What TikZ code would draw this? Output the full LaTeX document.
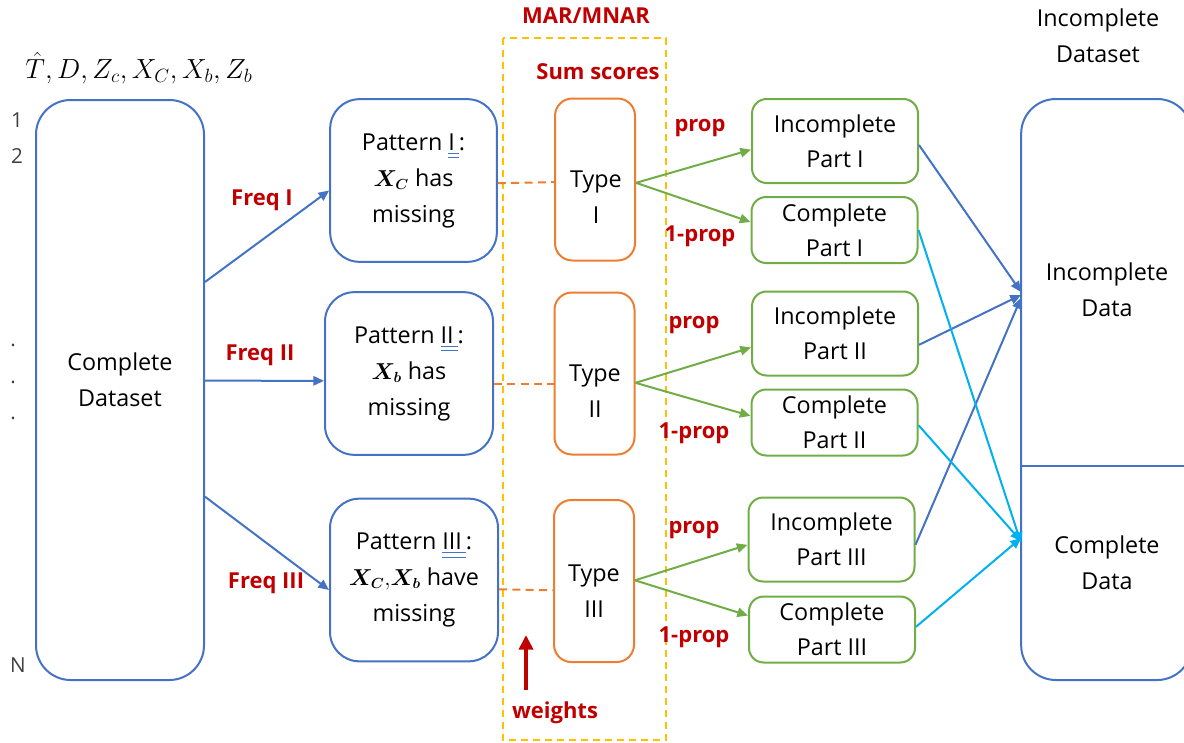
\documentclass[tikz,border=0pt]{standalone}
\usepackage{amsmath,bm}
\usepackage{fontspec}
\setmainfont{Open Sans}
\usetikzlibrary{arrows.meta,calc}
\definecolor{cblue}{HTML}{4472C4}
\definecolor{corange}{HTML}{ED7D31}
\definecolor{cgreen}{HTML}{70AD47}
\definecolor{ccyan}{HTML}{00B0F0}
\definecolor{cred}{HTML}{C00000}
\definecolor{cyellow}{HTML}{FFC000}
\definecolor{cgray}{HTML}{404040}
\newcommand\dul[1]{{\color{cblue}\underline{\underline{\textcolor{black}{#1}}}}}
\newcommand\mth[1]{{\fontsize{16}{27}\selectfont$#1$}}
\tikzset{
  every node/.style={font=\fontsize{17.5}{27}\selectfont, text=black, inner sep=0pt},
  bluebox/.style={draw=cblue, line width=1.5pt, rounded corners=22pt, align=center},
  typebox/.style={draw=corange, line width=1.5pt, rounded corners=13pt,
     minimum width=60pt, minimum height=121.5pt},
  greenbox/.style={draw=cgreen, line width=1.5pt, rounded corners=11pt, align=center,
     minimum width=124.5pt, font=\fontsize{17.5}{26}\selectfont},
  redlab/.style={text=cred, font=\fontsize{16.5}{20}\selectfont\bfseries},
  rowlab/.style={text=cgray, font=\fontsize{15.5}{20}\selectfont},
  tip/.style={-{Triangle[length=8pt,width=7pt]}},
  bluearrow/.style={tip, draw=cblue, line width=1.5pt},
  cyanarrow/.style={tip, draw=ccyan, line width=1.5pt},
  greenarrow/.style={tip, draw=cgreen, line width=1.5pt},
  orangedash/.style={draw=corange, line width=1.5pt, dash pattern=on 6pt off 4pt},
}
\begin{document}
\begin{tikzpicture}[x=0.75pt,y=-0.75pt]
\path[use as bounding box] (0,0) rectangle (1184,742);
\clip (0,0) rectangle (1184,742);

% top-left label and row numbers
\node[font=\fontsize{19.2}{24}\selectfont] (vars) at (139,68) {$\hat{T},D,Z_c,X_C,X_b,Z_b$};
\node[rowlab] (r1) at (17,120) {1};
\node[rowlab] (r2) at (17,156) {2};
\node[rowlab] (d1) at (13,345) {.};
\node[rowlab] (d2) at (13,382) {.};
\node[rowlab] (d3) at (13,418) {.};
\node[rowlab] (rn) at (18,665) {N};

% complete dataset
\node[bluebox, minimum width=126pt, minimum height=435pt, rounded corners=26pt] (cd) at (120,390) {};
\node[align=center] (cdt) at (120,380) {Complete\\Dataset};

% patterns
\node[bluebox, minimum width=125pt, minimum height=122pt] (p1) at (413.5,180.5)
  {Pattern \dul{I\,}:\\\mth{\bm{X_C}} has\\missing};
\node[bluebox, minimum width=126pt, minimum height=122pt] (p2) at (409,373.5)
  {Pattern \dul{II\,}:\\\mth{\bm{X_b}} has\\missing};
\node[bluebox, minimum width=126pt, minimum height=122pt] (p3) at (414,580)
  {Pattern \dul{III\,}:\\\mth{\bm{X_C},\!\bm{X_b}} have\\missing};

% yellow dashed region
\draw[cyellow, line width=1.5pt, dash pattern=on 5.5pt off 3.5pt] (503,38) rectangle (666,740);
\node[redlab] (mar) at (586,16) {MAR/MNAR};
\node[redlab] (sum) at (598,72) {Sum scores};

% types
\node[typebox] (t1) at (595,179.5) {};
\node[typebox] (t2) at (594.5,373.5) {};
\node[typebox] (t3) at (594,581) {};
\node[align=center] (t1t) at (596,197) {Type\\I};
\node[align=center] (t2t) at (595,391) {Type\\II};
\node[align=center] (t3t) at (594,591) {Type\\III};

% dashed links
\draw[orangedash] ([yshift=-2pt]p1.east) -- ([yshift=-2pt]t1.west);
\draw[orangedash] ([yshift=-7.5pt]p2.east) -- ([yshift=-7.5pt]t2.west);
\draw[orangedash] ([yshift=-7pt]p3.east) -- ([yshift=-7pt]t3.west);

% frequency arrows
\draw[bluearrow] ([yshift=81pt]cd.east) -- ([yshift=-7.5pt]p1.west);
\draw[bluearrow] ([yshift=7pt]cd.east) -- ([yshift=-5.5pt]p2.west);
\draw[bluearrow] ([yshift=-80pt]cd.east) -- ([yshift=-7.5pt]p3.west);
\node[redlab] (f1) at (262,200) {Freq I};
\node[redlab] (f2) at (260,355) {Freq II};
\node[redlab] (f3) at (266,583) {Freq III};

% green boxes
\node[greenbox, minimum height=63pt] (i1) at (835,141) {Incomplete\\Part I};
\node[greenbox, minimum height=49.5pt] (c1) at (834.5,230) {Complete\\Part I};
\node[greenbox, minimum height=63pt] (i2) at (835,333.5) {Incomplete\\Part II};
\node[greenbox, minimum height=49.5pt] (c2) at (834.5,422.5) {Complete\\Part II};
\node[greenbox, minimum height=63pt] (i3) at (831.5,539.5) {Incomplete\\Part III};
\node[greenbox, minimum height=49.5pt] (c3) at (832,629.5) {Complete\\Part III};

% green arrows
\draw[greenarrow] ([yshift=-2.5pt]t1.east) -- ([yshift=-6.5pt]i1.west);
\draw[greenarrow] ([yshift=-2.5pt]t1.east) -- ([yshift=6pt]c1.west);
\draw[greenarrow] ([yshift=-7pt]t2.east) -- ([yshift=-10.5pt]i2.west);
\draw[greenarrow] ([yshift=-7pt]t2.east) -- ([yshift=5pt]c2.west);
\draw[greenarrow] ([yshift=0.5pt]t3.east) -- ([yshift=-4pt]i3.west);
\draw[greenarrow] ([yshift=0.5pt]t3.east) -- ([yshift=10.5pt]c3.west);
\node[redlab] (pp1) at (700,128) {prop};
\node[redlab] (np1) at (700,236) {1-prop};
\node[redlab] (pp2) at (694,325) {prop};
\node[redlab] (np2) at (694,433) {1-prop};
\node[redlab] (pp3) at (694,530) {prop};
\node[redlab] (np3) at (694,637) {1-prop};

% right box
\node[bluebox, minimum width=128pt, minimum height=435.75pt, rounded corners=26pt] (rb) at (1106.5,389.5) {};
\coordinate (divl) at (1021,466);
\coordinate (divr) at (1192,466);
\draw[cblue, line width=1.5pt] (divl) -- (divr);
\node[align=center] (rbt) at (1098,36) {Incomplete\\Dataset};
\node[align=center] (incd) at (1107,290) {Incomplete\\Data};
\node[align=center] (comd) at (1107,563) {Complete\\Data};
\coordinate (inT1) at (1021,292);
\coordinate (inT2) at (1021,295);
\coordinate (inT3) at (1021,298);
\coordinate (cT1) at (1021,543);
\coordinate (cT2) at (1021,541);
\coordinate (cT3) at (1021,538);

\draw[bluearrow] ([yshift=-3pt]i1.east) -- (inT1);
\draw[bluearrow] ([yshift=-8.5pt]i2.east) -- (inT2);
\draw[bluearrow] ([yshift=-4pt]i3.east) -- (inT3);
\draw[cyanarrow] (c1.east) -- (cT1);
\draw[cyanarrow] ([yshift=-2pt]c2.east) -- (cT2);
\draw[cyanarrow] ([yshift=2pt]c3.east) -- (cT3);

% weights
\coordinate (wbot) at (526,690);
\coordinate (wtop) at (526,635);
\draw[cred, line width=3pt, -{Triangle[length=11pt,width=10.5pt]}] (wbot) -- (wtop);
\node[redlab] (wl) at (555,713) {weights};
\end{tikzpicture}
\end{document}
